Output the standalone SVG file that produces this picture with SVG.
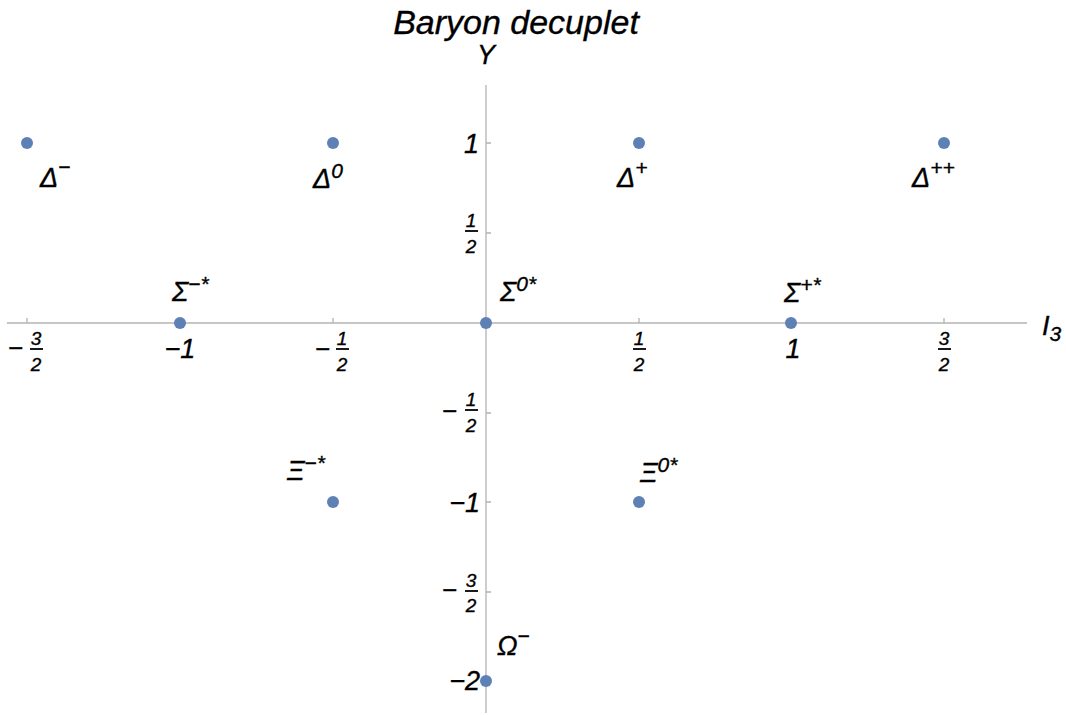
<svg xmlns="http://www.w3.org/2000/svg" width="1066" height="715" viewBox="0 0 1066 715">
<style>
text{font-family:"Liberation Sans",Arial,sans-serif;font-style:italic;fill:#000;stroke:#000;stroke-width:0.35}
.lbl{font-size:27px}
.sup{font-size:21px}
.tk{font-size:27px}
.fr{font-size:19px}
.mn{font-size:26px}
.ax{stroke:#b3b3b3;stroke-width:1.3;fill:none}
.bar{stroke:#000;stroke-width:1.8}
.pt{fill:#5e81b5}
</style>
<rect width="1066" height="715" fill="#fff"/>
<text x="516" y="34" font-size="34" text-anchor="middle">Baryon decuplet</text>
<g id="axes">
<line class="ax" x1="7" y1="323" x2="1027" y2="323"/>
<line class="ax" x1="486" y1="85" x2="486" y2="713"/>
<path class="ax" d="M27 323v-5M180 323v-5M333 323v-5M639 323v-5M791 323v-5M944 323v-5M486 143h5M486 233h5M486 413h5M486 502h5M486 592h5M486 681h5"/>
<text x="486" y="64" class="lbl" text-anchor="middle">Y</text>
<text x="1042" y="335" class="lbl">I<tspan class="sup" dy="6">3</tspan></text>
</g>
<g id="xticks">
<text x="8" y="357" class="mn">−</text>
<text x="36" y="345" class="fr" text-anchor="middle">3</text><line class="bar" x1="30" y1="349" x2="43" y2="349"/><text x="36" y="371" class="fr" text-anchor="middle">2</text>
<text x="180" y="358" class="tk" text-anchor="middle">−1</text>
<text x="315" y="358" class="mn">−</text>
<text x="342" y="345" class="fr" text-anchor="middle">1</text><line class="bar" x1="336" y1="349" x2="349" y2="349"/><text x="342" y="371" class="fr" text-anchor="middle">2</text>
<text x="639" y="345" class="fr" text-anchor="middle">1</text><line class="bar" x1="633" y1="349" x2="646" y2="349"/><text x="639" y="371" class="fr" text-anchor="middle">2</text>
<text x="793" y="358" class="tk" text-anchor="middle">1</text>
<text x="944" y="345" class="fr" text-anchor="middle">3</text><line class="bar" x1="938" y1="349" x2="951" y2="349"/><text x="944" y="371" class="fr" text-anchor="middle">2</text>
</g>
<g id="yticks">
<text x="479" y="153" class="tk" text-anchor="end">1</text>
<text x="471" y="227" class="fr" text-anchor="middle">1</text><line class="bar" x1="465" y1="231" x2="478" y2="231"/><text x="471" y="253" class="fr" text-anchor="middle">2</text>
<text x="442" y="420" class="mn">−</text>
<text x="471" y="406" class="fr" text-anchor="middle">1</text><line class="bar" x1="465" y1="410" x2="478" y2="410"/><text x="471" y="432" class="fr" text-anchor="middle">2</text>
<text x="480" y="512" class="tk" text-anchor="end">−1</text>
<text x="442" y="599" class="mn">−</text>
<text x="471" y="587" class="fr" text-anchor="middle">3</text><line class="bar" x1="465" y1="591" x2="478" y2="591"/><text x="471" y="612" class="fr" text-anchor="middle">2</text>
<text x="480" y="690" class="tk" text-anchor="end">−2</text>
</g>
<g id="delta-minus"><circle class="pt" cx="27" cy="143" r="6"/><text x="40" y="187" class="lbl">Δ<tspan class="sup" dy="-13">−</tspan></text></g>
<g id="delta-zero"><circle class="pt" cx="333" cy="143" r="6"/><text x="313" y="188" class="lbl">Δ<tspan class="sup" dy="-10">0</tspan></text></g>
<g id="delta-plus"><circle class="pt" cx="639" cy="143" r="6"/><text x="617" y="187" class="lbl">Δ<tspan class="sup" dy="-12">+</tspan></text></g>
<g id="delta-plusplus"><circle class="pt" cx="944" cy="143" r="6"/><text x="912" y="187" class="lbl">Δ<tspan class="sup" dy="-12">++</tspan></text></g>
<g id="sigma-minus"><circle class="pt" cx="180" cy="323" r="6"/><text x="172" y="301" class="lbl">Σ<tspan class="sup" dy="-10">−*</tspan></text></g>
<g id="sigma-zero"><circle class="pt" cx="486" cy="323" r="6"/><text x="500" y="301" class="lbl">Σ<tspan class="sup" dy="-10">0*</tspan></text></g>
<g id="sigma-plus"><circle class="pt" cx="791" cy="323" r="6"/><text x="784" y="302" class="lbl">Σ<tspan class="sup" dy="-10">+*</tspan></text></g>
<g id="xi-minus"><circle class="pt" cx="333" cy="502" r="6"/><text x="287" y="480" class="lbl">Ξ<tspan class="sup" dy="-10">−*</tspan></text></g>
<g id="xi-zero"><circle class="pt" cx="639" cy="502" r="6"/><text x="640" y="482" class="lbl">Ξ<tspan class="sup" dy="-10">0*</tspan></text></g>
<g id="omega-minus"><circle class="pt" cx="486" cy="681" r="6"/><text x="497" y="655" class="lbl">Ω<tspan class="sup" dy="-12">−</tspan></text></g>
</svg>
